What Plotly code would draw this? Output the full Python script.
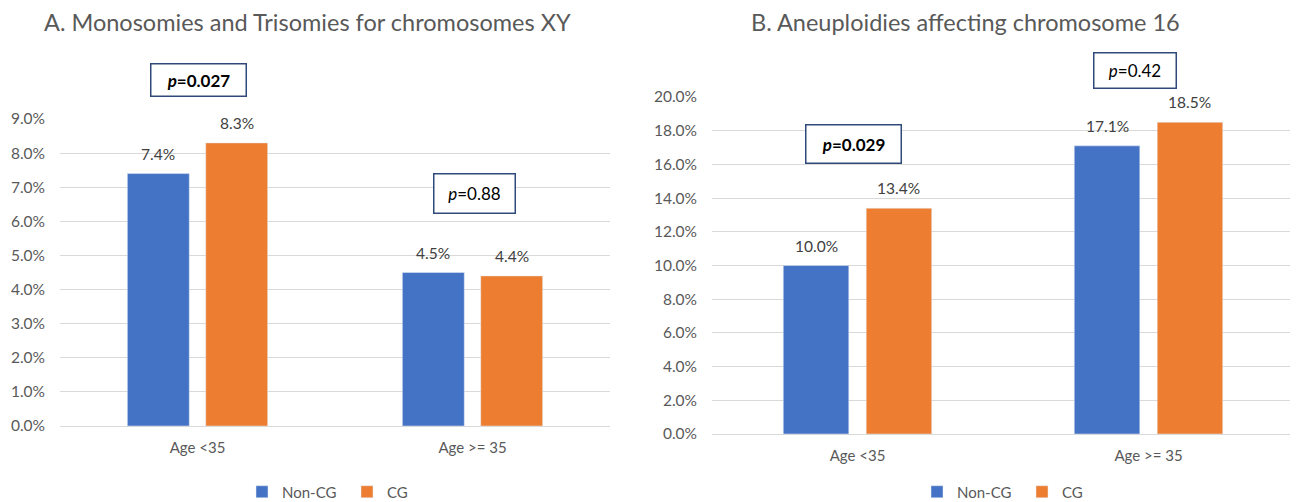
import plotly.graph_objects as go

categories = ["Age <35", "Age >= 35"]
series_names = ["Non-CG", "CG"]
xy_noncg = [7.4, 4.5]
xy_cg = [8.3, 4.4]
c16_noncg = [10.0, 17.1]
c16_cg = [13.4, 18.5]
title_a = "A. Monosomies and Trisomies for chromosomes XY"
title_b = "B. Aneuploidies affecting chromosome 16"
p_a = ["<b><i>p</i>=0.027</b>", "<i>p</i>=0.88"]
p_b = ["<b><i>p</i>=0.029</b>", "<i>p</i>=0.42"]
ticks_a = [0, 1, 2, 3, 4, 5, 6, 7, 8, 9]
ticks_b = [0, 2, 4, 6, 8, 10, 12, 14, 16, 18, 20]

BLUE = "#4472C4"
ORANGE = "#ED7D31"
FONT = "Lato"
# page body has an 8px default margin; compensate so the picture aligns
OX, OY = 8, 8
W, H = 1290, 494
BARGAP, GROUPGAP = 0.43, 0.21

def px(x):
    return (x - OX) / W

def py(y):
    return 1 - (y - OY) / H

A_X = (60, 610)
B_X = (712, 1294)

fig = go.Figure()

def add_bars(vals, name, color, xa, ya, legend):
    fig.add_trace(go.Bar(
        x=categories, y=vals, name=name, marker_color=color,
        cliponaxis=False, xaxis=xa, yaxis=ya, legend=legend,
    ))

add_bars(xy_noncg, series_names[0], BLUE, "x", "y", "legend")
add_bars(xy_cg, series_names[1], ORANGE, "x", "y", "legend")
add_bars(c16_noncg, series_names[0], BLUE, "x2", "y2", "legend2")
add_bars(c16_cg, series_names[1], ORANGE, "x2", "y2", "legend2")

axis_common = dict(showgrid=True, gridcolor="#D9D9D9", gridwidth=1,
                   zeroline=False, ticks="", showline=False, automargin=False,
                   ticklabelstandoff=14,
                   tickfont=dict(size=15.5, color="#595959", family=FONT))
xaxis_common = dict(showgrid=False, showline=True, linecolor="#D9D9D9",
                    ticks="", automargin=False, ticklabelstandoff=8,
                    tickfont=dict(size=15, color="#595959", family=FONT))

legend_common = dict(orientation="h", xanchor="left", y=py(492),
                     yanchor="middle",
                     font=dict(size=15, color="#595959", family=FONT),
                     itemwidth=30, entrywidth=60, bgcolor="rgba(0,0,0,0)")

fig.update_layout(
    width=W, height=H,
    margin=dict(l=0, r=0, t=0, b=0, autoexpand=False),
    paper_bgcolor="white", plot_bgcolor="white",
    barmode="group", bargap=BARGAP, bargroupgap=GROUPGAP,
    font=dict(family=FONT, color="#595959"),
    xaxis=dict(domain=[px(A_X[0]), px(A_X[1])], anchor="y", **xaxis_common),
    yaxis=dict(domain=[py(426), py(119)], anchor="x", range=[0, 9],
               tickvals=ticks_a, ticktext=[f"{t:.1f}%" for t in ticks_a],
               **axis_common),
    xaxis2=dict(domain=[px(B_X[0]), px(B_X[1])], anchor="y2", **xaxis_common),
    yaxis2=dict(domain=[py(434), py(97)], anchor="x2", range=[0, 20],
                tickvals=ticks_b, ticktext=[f"{t:.1f}%" for t in ticks_b],
                **axis_common),
    legend=dict(x=px(242), **legend_common),
    legend2=dict(x=px(917), **legend_common),
    showlegend=True,
)

annos = [
    dict(text=title_a, x=px(307), y=py(22), xref="paper", yref="paper",
         showarrow=False, font=dict(size=23.5, color="#595959", family=FONT),
         xanchor="center", yanchor="middle", borderpad=0),
    dict(text=title_b, x=px(965), y=py(22), xref="paper", yref="paper",
         showarrow=False, font=dict(size=23.5, color="#595959", family=FONT),
         xanchor="center", yanchor="middle", borderpad=0),
]

# data labels placed above each grouped bar, offset from the category centre
def add_value_labels(series_list, xref, yref, span):
    catw = (span[1] - span[0]) / len(categories)
    slot = (1 - BARGAP) * catw / len(series_list)
    for si, vals in enumerate(series_list):
        shift = (si - (len(series_list) - 1) / 2) * slot
        for cat, v in zip(categories, vals):
            annos.append(dict(text=f"{v:.1f}%", x=cat, y=v, xref=xref, yref=yref,
                              xshift=shift, yshift=9, showarrow=False,
                              xanchor="center", yanchor="bottom",
                              font=dict(size=15.5, color="#404040", family=FONT)))

add_value_labels([xy_noncg, xy_cg], "x", "y", A_X)
add_value_labels([c16_noncg, c16_cg], "x2", "y2", B_X)

boxes = [
    (p_a[0], 198.5, 80, 97, 34),
    (p_a[1], 474.5, 193.5, 83, 41),
    (p_b[0], 853.5, 144, 97, 40),
    (p_b[1], 1135, 70.5, 84, 37),
]
for txt, cx, cy, w, h in boxes:
    annos.append(dict(text=txt, x=px(cx), y=py(cy), xref="paper", yref="paper",
                      showarrow=False, xanchor="center", yanchor="middle",
                      width=w - 3, height=h - 3, borderpad=0,
                      bordercolor="#2F4A7A", borderwidth=1.5, bgcolor="white",
                      font=dict(size=17, color="#000000", family=FONT)))
fig.update_layout(annotations=annos)

fig.write_html("out.html")
